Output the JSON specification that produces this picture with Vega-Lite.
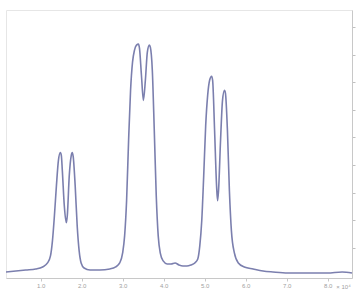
{
  "$schema": "https://vega.github.io/schema/vega-lite/v6.json",
  "autosize": {"type": "fit", "contains": "padding"},
  "width": 359,
  "height": 291,
  "padding": {"left": 2, "top": 10, "right": 3, "bottom": 2},
  "background": "white",
  "config": {"view": {"stroke": "#e6e6e6", "strokeWidth": 1}},
  "data": {"values": [
    {"x": 0.157, "y": 6}, {"x": 0.398, "y": 7}, {"x": 0.639, "y": 8}, {"x": 0.880, "y": 9},
    {"x": 1.048, "y": 11}, {"x": 1.169, "y": 15}, {"x": 1.241, "y": 22}, {"x": 1.289, "y": 37},
    {"x": 1.337, "y": 62}, {"x": 1.386, "y": 92}, {"x": 1.434, "y": 117}, {"x": 1.482, "y": 125},
    {"x": 1.506, "y": 122}, {"x": 1.530, "y": 107}, {"x": 1.578, "y": 72}, {"x": 1.627, "y": 55},
    {"x": 1.651, "y": 62}, {"x": 1.699, "y": 102}, {"x": 1.747, "y": 122}, {"x": 1.771, "y": 125},
    {"x": 1.795, "y": 121}, {"x": 1.843, "y": 92}, {"x": 1.892, "y": 52}, {"x": 1.940, "y": 27},
    {"x": 1.988, "y": 15}, {"x": 2.060, "y": 10}, {"x": 2.205, "y": 8}, {"x": 2.446, "y": 8},
    {"x": 2.687, "y": 9}, {"x": 2.831, "y": 11}, {"x": 2.928, "y": 15}, {"x": 3.000, "y": 25},
    {"x": 3.048, "y": 42}, {"x": 3.096, "y": 77}, {"x": 3.145, "y": 137}, {"x": 3.193, "y": 187},
    {"x": 3.241, "y": 215}, {"x": 3.289, "y": 227}, {"x": 3.337, "y": 232}, {"x": 3.386, "y": 233},
    {"x": 3.410, "y": 229}, {"x": 3.458, "y": 202}, {"x": 3.506, "y": 177}, {"x": 3.554, "y": 197},
    {"x": 3.602, "y": 225}, {"x": 3.651, "y": 232}, {"x": 3.675, "y": 230}, {"x": 3.723, "y": 207},
    {"x": 3.771, "y": 147}, {"x": 3.819, "y": 82}, {"x": 3.867, "y": 42}, {"x": 3.916, "y": 25},
    {"x": 3.988, "y": 17}, {"x": 4.084, "y": 14}, {"x": 4.181, "y": 14}, {"x": 4.277, "y": 15},
    {"x": 4.373, "y": 13}, {"x": 4.470, "y": 12}, {"x": 4.566, "y": 12}, {"x": 4.663, "y": 13},
    {"x": 4.759, "y": 15}, {"x": 4.831, "y": 19}, {"x": 4.880, "y": 32}, {"x": 4.928, "y": 57},
    {"x": 4.976, "y": 102}, {"x": 5.024, "y": 152}, {"x": 5.072, "y": 182}, {"x": 5.120, "y": 197},
    {"x": 5.169, "y": 201}, {"x": 5.193, "y": 197}, {"x": 5.241, "y": 147}, {"x": 5.289, "y": 92},
    {"x": 5.313, "y": 77}, {"x": 5.337, "y": 87}, {"x": 5.386, "y": 137}, {"x": 5.434, "y": 177},
    {"x": 5.482, "y": 187}, {"x": 5.506, "y": 184}, {"x": 5.554, "y": 147}, {"x": 5.602, "y": 87},
    {"x": 5.651, "y": 47}, {"x": 5.723, "y": 25}, {"x": 5.819, "y": 15}, {"x": 5.964, "y": 11},
    {"x": 6.181, "y": 9}, {"x": 6.422, "y": 7}, {"x": 6.663, "y": 6}, {"x": 7.024, "y": 5},
    {"x": 7.506, "y": 5}, {"x": 7.988, "y": 5}, {"x": 8.349, "y": 6}, {"x": 8.590, "y": 5}
  ]},
  "mark": {"type": "line", "color": "#7b7fae", "strokeWidth": 1.6, "interpolate": "monotone"},
  "encoding": {
    "x": {
      "field": "x", "type": "quantitative",
      "scale": {"domain": [0.157, 8.59], "nice": false, "zero": false},
      "axis": {
        "values": [1, 2, 3, 4, 5, 6, 7, 8],
        "format": ".1f",
        "grid": false,
        "tickSize": 3,
        "labelFontSize": 6,
        "labelPadding": 1,
        "labelColor": "#a0a0a0",
        "domainColor": "#c8c8c8",
        "tickColor": "#c8c8c8",
        "title": "× 10⁴",
        "titleFontSize": 6,
        "titleFontWeight": "normal",
        "titleColor": "#a0a0a0",
        "titleX": 337,
        "titleY": 5,
        "titleAlign": "center"
      }
    },
    "y": {
      "field": "y", "type": "quantitative",
      "scale": {"domain": [0, 267], "nice": false},
      "axis": {
        "orient": "right",
        "values": [30, 57.5, 85, 112.5, 140, 167.5, 195, 222.5, 250],
        "labels": false,
        "grid": false,
        "tickSize": 3,
        "domainColor": "#c8c8c8",
        "tickColor": "#c0c0c0",
        "title": null
      }
    }
  }
}
